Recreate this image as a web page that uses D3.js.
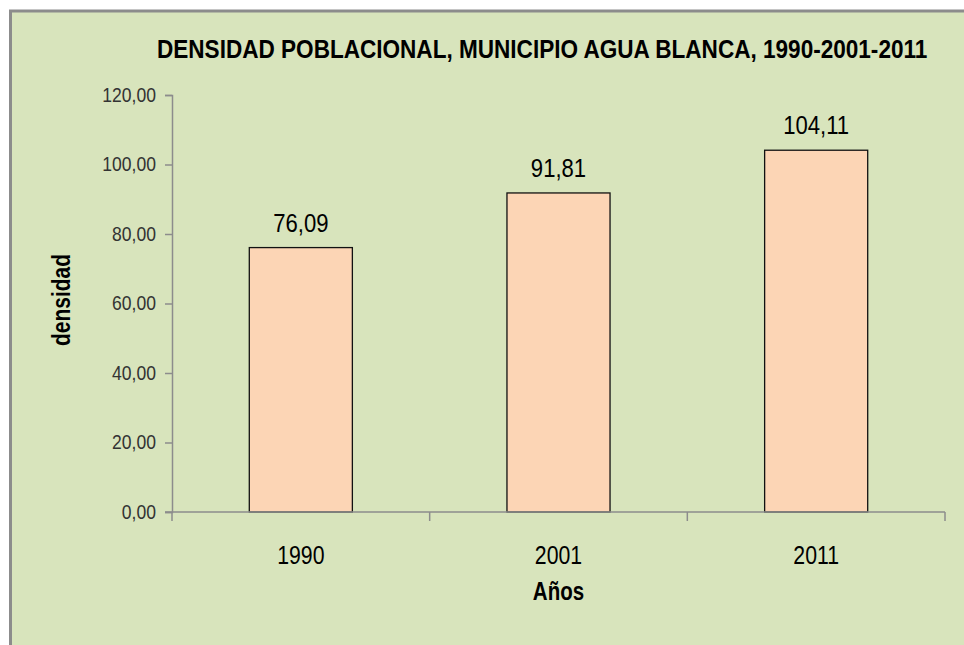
<!DOCTYPE html>
<html>
<head>
<meta charset="utf-8">
<script src="https://cdn.jsdelivr.net/npm/d3@7"></script>
<style>
  body { margin: 0; background: #fff; }
  svg text { font-family: "Liberation Sans", Arial, sans-serif; }
</style>
</head>
<body>
<div id="chart"></div>
<script>
// data
const years = ["1990", "2001", "2011"];
const density = [76.09, 91.81, 104.11];
const yTicks = [0, 20, 40, 60, 80, 100, 120];

const width = 964, height = 645;
const margin = { top: 95, right: 19, bottom: 133, left: 172 };

const svg = d3.select("#chart")
    .append("svg")
    .attr("width", width)
    .attr("height", height);

// squeeze text horizontally (the original uses a narrow font)
function narrow(sel, sx) {
    sel.each(function () {
        let t = d3.select(this);
        let x0 = +t.attr("x") || 0;
        t.attr("x", x0 / sx).attr("transform", `scale(${sx},1)`);
    });
}

// chart area with gray border
svg.append("rect")
    .attr("x", 10.5).attr("y", 11)
    .attr("width", 970).attr("height", 660)
    .attr("fill", "#d8e4bc")
    .attr("stroke", "#8c8c8c")
    .attr("stroke-width", 3);

const fmt = v => d3.format(".2f")(v).replace(".", ",");

let x = d3.scaleBand()
    .domain(years)
    .range([margin.left, width - margin.right])
    .paddingInner(0.6)
    .paddingOuter(0.3);

let y = d3.scaleLinear()
    .domain([0, 120])
    .range([height - margin.bottom, margin.top]);

// title, squeezed to the width it has in the original
let title = svg.append("text")
    .attr("x", 157)
    .attr("y", 58)
    .attr("font-size", 25)
    .attr("font-weight", "bold")
    .attr("fill", "#000")
    .text("DENSIDAD POBLACIONAL, MUNICIPIO AGUA BLANCA, 1990-2001-2011");
let titleW = title.node().getComputedTextLength();
title.call(narrow, Math.min(1, 771 / titleW));

// Y axis
let yAxis = svg.append("g")
    .attr("transform", `translate(${margin.left},0)`)
    .call(d3.axisLeft(y)
        .tickValues(yTicks)
        .tickSizeInner(7)
        .tickSizeOuter(7)
        .tickPadding(9)
        .tickFormat(fmt));
yAxis.select(".domain").attr("stroke", "#8c8c8c").attr("stroke-width", 1.5);
yAxis.selectAll(".tick line").attr("stroke", "#8c8c8c").attr("stroke-width", 1.5);
yAxis.selectAll(".tick text")
    .attr("font-size", 19.5)
    .attr("fill", "#333")
    .attr("font-family", null)
    .call(narrow, 0.9);

// bars
svg.append("g")
    .selectAll("rect")
    .data(years)
    .join("rect")
    .attr("x", d => x(d))
    .attr("y", (d, i) => y(density[i]))
    .attr("width", x.bandwidth())
    .attr("height", (d, i) => y(0) - y(density[i]))
    .attr("fill", "#fcd5b5")
    .attr("stroke", "#111")
    .attr("stroke-width", 1.3);

// X axis drawn over the bars
let step = x.step();
let xAxis = svg.append("g")
    .attr("transform", `translate(0,${y(0)})`);
xAxis.append("line")
    .attr("x1", margin.left - 7).attr("x2", width - margin.right)
    .attr("stroke", "#8c8c8c").attr("stroke-width", 1.5);
xAxis.selectAll(".sep")
    .data(d3.range(years.length + 1))
    .join("line")
    .attr("class", "sep")
    .attr("x1", i => margin.left + i * step)
    .attr("x2", i => margin.left + i * step)
    .attr("y1", 0).attr("y2", 9)
    .attr("stroke", "#8c8c8c").attr("stroke-width", 1.5);
xAxis.selectAll(".cat")
    .data(years)
    .join("text")
    .attr("class", "cat")
    .attr("x", d => x(d) + x.bandwidth() / 2)
    .attr("y", 52)
    .attr("text-anchor", "middle")
    .attr("font-size", 25)
    .attr("fill", "#000")
    .text(d => d)
    .call(narrow, 0.85);

// value labels
svg.append("g")
    .selectAll("text")
    .data(years)
    .join("text")
    .attr("x", d => x(d) + x.bandwidth() / 2)
    .attr("y", (d, i) => y(density[i]) - 16)
    .attr("text-anchor", "middle")
    .attr("font-size", 26)
    .attr("fill", "#000")
    .text((d, i) => fmt(density[i]))
    .call(narrow, 0.85);

// axis titles
svg.append("text")
    .attr("x", (margin.left + width - margin.right) / 2)
    .attr("y", 600)
    .attr("text-anchor", "middle")
    .attr("font-size", 25)
    .attr("font-weight", "bold")
    .text("Años")
    .call(narrow, 0.82);

svg.append("text")
    .attr("transform", `translate(70,300) rotate(-90) scale(0.84,1)`)
    .attr("text-anchor", "middle")
    .attr("font-size", 25)
    .attr("font-weight", "bold")
    .text("densidad");
</script>
</body>
</html>
